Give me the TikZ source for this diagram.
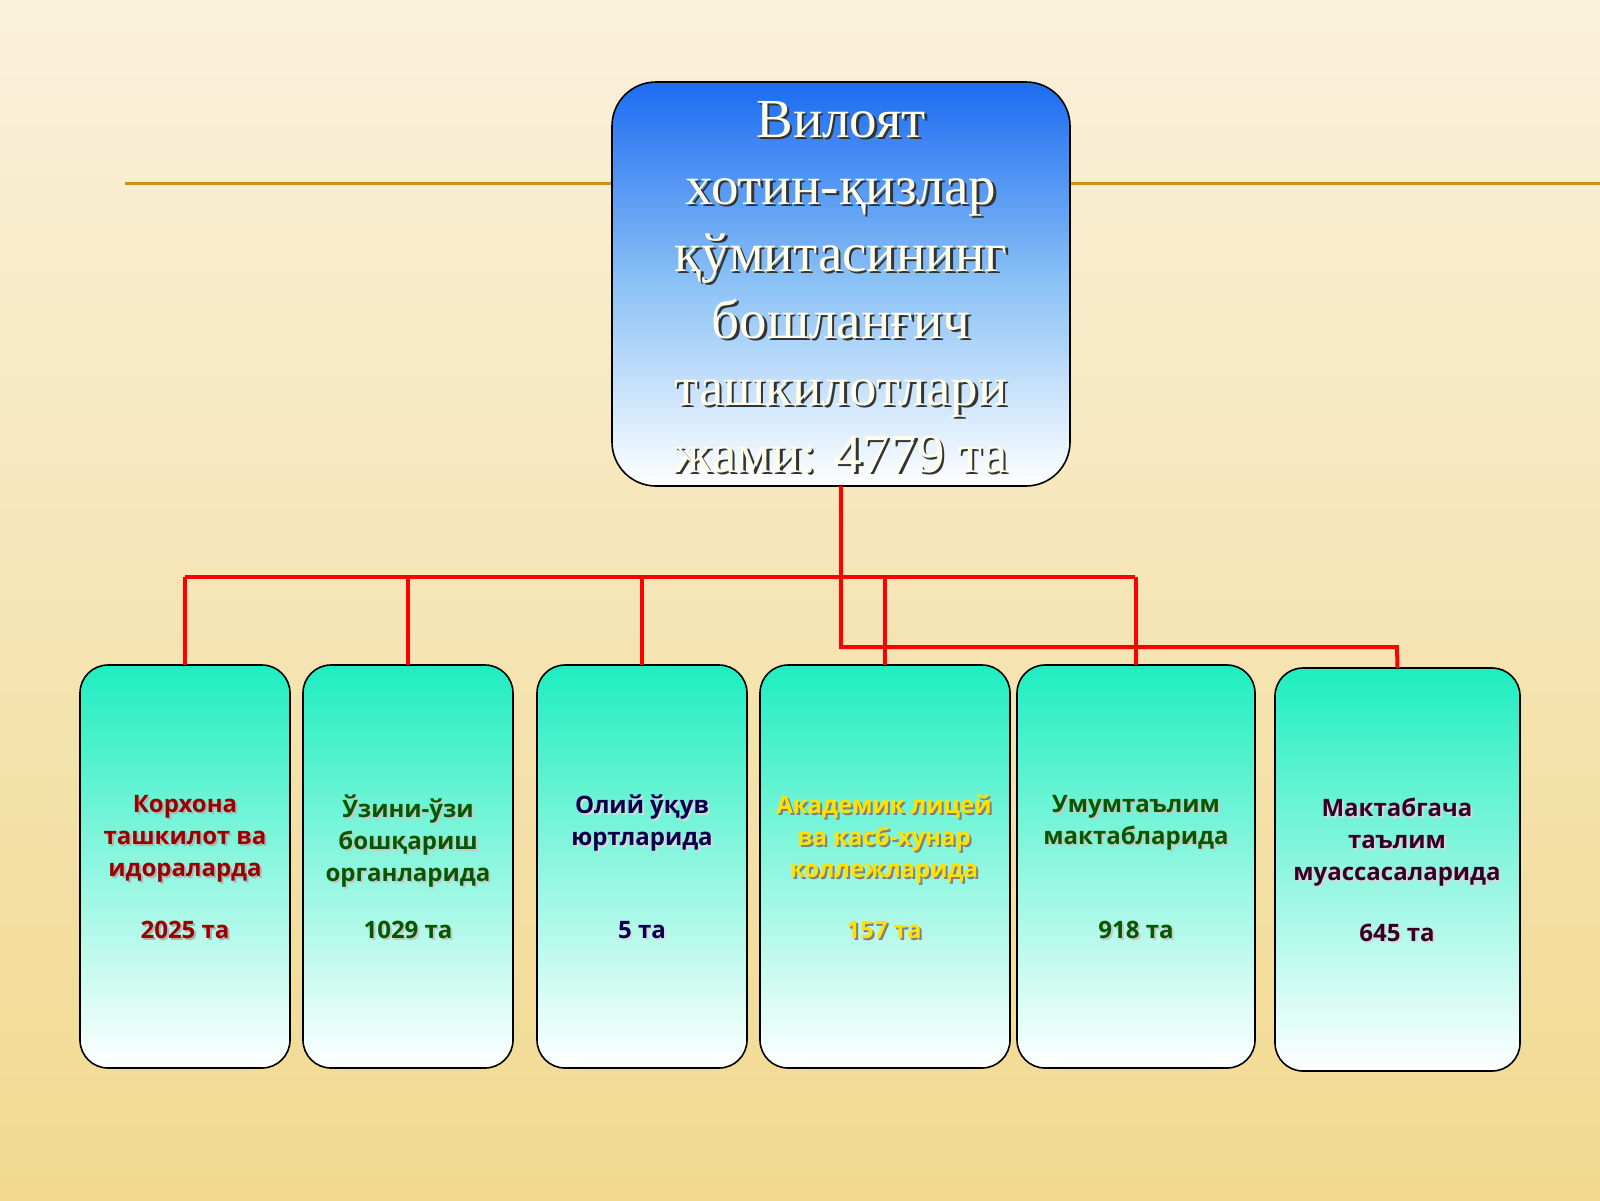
\documentclass[tikz,border=0pt]{standalone}
\usepackage{fontspec}
\setmainfont{Liberation Serif}
\newfontfamily\boxfont{Open Sans}
\definecolor{bgtop}{HTML}{FAF1DC}
\definecolor{bgbot}{HTML}{F1D98F}
\definecolor{tblue}{HTML}{1C6CF2}
\definecolor{tmid}{HTML}{8CC2F6}
\definecolor{cgreen}{HTML}{1EEEC0}
\definecolor{oline}{HTML}{D0901A}
\begin{document}
\begin{tikzpicture}[x=0.5pt,y=-0.5pt,
  top/.style={draw=black,line width=0.8pt,rounded corners=22pt,top color=tblue,bottom color=white,middle color=tmid},
  child/.style={draw=black,line width=0.8pt,rounded corners=14pt,top color=cgreen,bottom color=white},
  wire/.style={draw=red,line width=2pt},
  ttxt/.style={font=\fontsize{27.5}{33.5}\selectfont,align=center,text=yellow!8!white},
  tsh/.style={font=\fontsize{27.5}{33.5}\selectfont,align=center,text=black!80},
  ctxt/.style={font=\boxfont\bfseries\fontsize{12}{16}\selectfont,align=center,anchor=north}]
\fill[top color=bgtop,bottom color=bgbot] (0,0) rectangle (1600,1200);
\useasboundingbox (0,0) rectangle (1600,1200);
\draw[oline,line width=1.5pt] (125,183) -- (612,183);
\draw[oline,line width=1.5pt] (1070,183) -- (1600,183);
% top box
\path[top] (612,82) rectangle (1070,486);
\node (Tsh) at (843.5,289.5) [tsh] {Вилоят\\хотин-қизлар\\қўмитасининг\\бошланғич\\ташкилотлари\\жами: 4779 та};
\node (Tt) at (841,287) [ttxt] {Вилоят\\хотин-қизлар\\қўмитасининг\\бошланғич\\ташкилотлари\\жами: 4779 та};
% child boxes
\foreach \n/\a/\b/\t in {A/80/290/665,B/303/513/665,C/537/747/665,D/760/1010/665,E/1017/1255/665,F/1275/1520/668}{
  \path[child] (\a,\t) rectangle (\b,\t+403);
  \coordinate (\n) at ({(\a+\b)/2},\t);
}
\foreach \x/\y/\c/\s/\txt/\num in {
  185/788/red!60!black/black!30/{Корхона\\ташкилот ва\\идораларда}/{2025 та},
  408/788/green!35!black/black!22/{Ўзини-ўзи\\бошқариш\\органларида}/{1029 та},
  642/788/blue!30!black/black!15/{Олий ўқув\\юртларида}/{5 та},
  884/788/yellow!85!orange/black!50/{Академик лицей\\ва касб-хунар\\коллежларида}/{157 та},
  1136/788/green!35!black/black!22/{Умумтаълим\\мактабларида}/{918 та},
  1397/791/blue!40!red!35!black/black!15/{Мактабгача\\таълим\\муассасаларида}/{645 та}}{
  \node[ctxt,text=\s] at (\x+2,\y+2) {\txt};
  \node[ctxt,text=\c] at (\x,\y) {\txt};
  \node[ctxt,text=\s] at (\x+2,\y+128) {\num};
  \node[ctxt,text=\c] at (\x,\y+126) {\num};
}
% connectors
\coordinate (Tb) at (841,486);
\coordinate (j2) at (841,647);
\draw[wire] (Tb) -- (j2) -- (1397,647) -- (F);
\draw[wire] (185,577) -- (1135,577);
\draw[wire] (A) -- (185,577);
\draw[wire] (B) -- (408,577);
\draw[wire] (C) -- (642,577);
\draw[wire] (D) -- (885,577);
\draw[wire] (E) -- (1136,577);
\end{tikzpicture}
\end{document}
